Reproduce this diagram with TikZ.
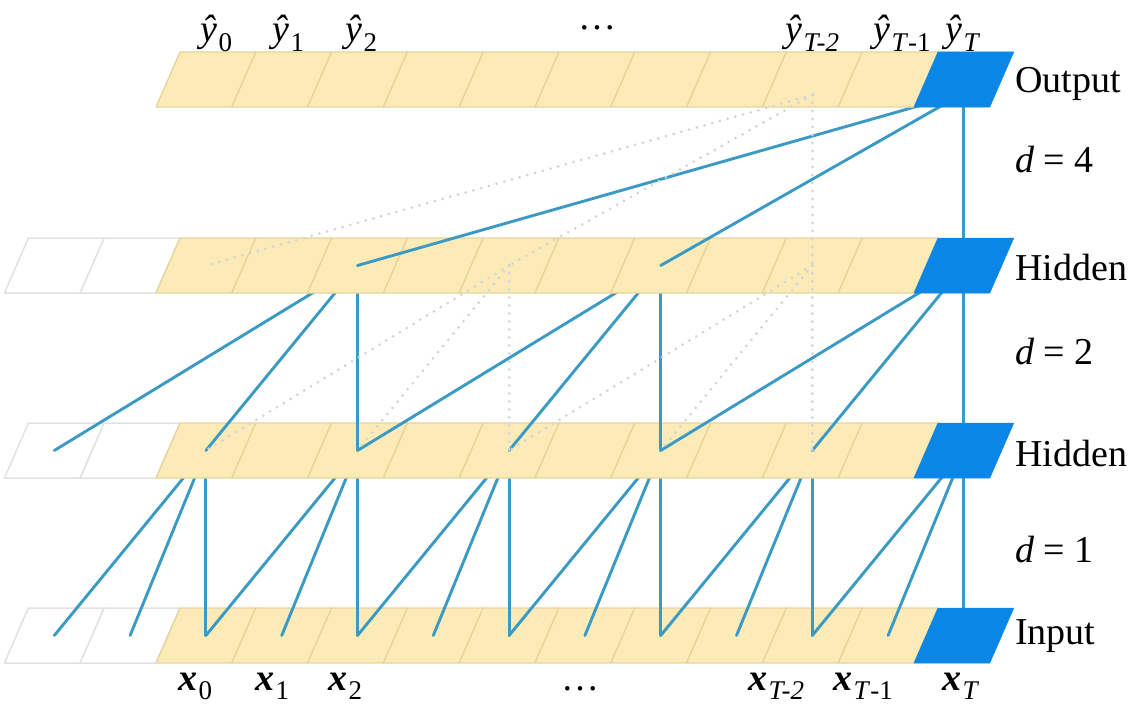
\documentclass[tikz,border=0pt]{standalone}
\usepackage{fontspec}
\setmainfont{Liberation Serif}
\definecolor{cellfill}{HTML}{FDEBB7}
\definecolor{celldraw}{HTML}{E6D49A}
\definecolor{bluecell}{HTML}{0A86E6}
\definecolor{conn}{HTML}{3B9AC4}
\definecolor{ghost}{HTML}{E2E2E2}
\definecolor{dotc}{HTML}{CDD5E0}
\newcommand\lsub[1]{\kern0.04em\raisebox{-0.24em}{\fontsize{27}{29}\selectfont #1}}
\tikzset{
  cellbox/.style={fill=cellfill, draw=celldraw, line width=1.3pt, line join=round},
  ghostbox/.style={fill=white, draw=ghost, line width=1.5pt, line join=round},
  lastbox/.style={fill=bluecell, draw=bluecell, line width=0.5pt},
  link/.style={draw=conn, line width=2.9pt, line cap=round},
  faint/.style={draw=dotc, line width=3pt, line cap=round, dash pattern=on 0pt off 8pt},
  lbl/.style={font=\fontsize{38}{40}\selectfont, inner sep=0pt},
}
\begin{document}
\begin{tikzpicture}[x=1pt, y=-1pt]
\useasboundingbox (0,0) rectangle (1133,709);
% ---------- cell centres ----------
\foreach \m in {0,...,12} {
  \coordinate (i\m) at ({54.3+75.8*\m},635.5);
  \coordinate (b\m) at ({54.3+75.8*\m},450.5);
  \coordinate (a\m) at ({54.3+75.8*\m},265.5);
}
\foreach \m in {2,...,12} \coordinate (o\m) at ({54.3+75.8*\m},79.5);
% ---------- vertical chain through the last cells (hidden by them) ----------
\draw[link] (o12) -- (a12) -- (b12) -- (i12);
% ---------- Input row (top 608) ----------
\foreach \m in {0,1} \draw[ghostbox] ({4.4+75.8*\m},663) -- ++(75.8,0) -- ++(24,-55) -- ++(-75.8,0) -- cycle;
\foreach \m in {2,...,11} \draw[cellbox] ({4.4+75.8*\m},663) -- ++(75.8,0) -- ++(24,-55) -- ++(-75.8,0) -- cycle;
\draw[lastbox] ({4.4+75.8*12},663) -- ++(75.8,0) -- ++(24,-55) -- ++(-75.8,0) -- cycle;
% ---------- links hidden 2 -> input ----------
\foreach \m in {2,4,...,12} {
  \pgfmathtruncatemacro\ma{\m-1}
  \pgfmathtruncatemacro\mb{\m-2}
  \ifnum\m<12 \draw[link] (b\m) -- (i\m);\fi
  \draw[link] (b\m) -- (i\ma);
  \draw[link] (b\m) -- (i\mb);
}
% ---------- Hidden row 2 (top 423) ----------
\foreach \m in {0,1} \draw[ghostbox] ({4.4+75.8*\m},478) -- ++(75.8,0) -- ++(24,-55) -- ++(-75.8,0) -- cycle;
\foreach \m in {2,...,11} \draw[cellbox] ({4.4+75.8*\m},478) -- ++(75.8,0) -- ++(24,-55) -- ++(-75.8,0) -- cycle;
\draw[lastbox] ({4.4+75.8*12},478) -- ++(75.8,0) -- ++(24,-55) -- ++(-75.8,0) -- cycle;
% ---------- links hidden 1 -> hidden 2 ----------
\foreach \m in {4,8,12} {
  \pgfmathtruncatemacro\ma{\m-2}
  \pgfmathtruncatemacro\mb{\m-4}
  \ifnum\m<12 \draw[link] (a\m) -- (b\m);\fi
  \draw[link] (a\m) -- (b\ma);
  \draw[link] (a\m) -- (b\mb);
}
% ---------- Hidden row 1 (top 238) ----------
\foreach \m in {0,1} \draw[ghostbox] ({4.4+75.8*\m},293) -- ++(75.8,0) -- ++(24,-55) -- ++(-75.8,0) -- cycle;
\foreach \m in {2,...,11} \draw[cellbox] ({4.4+75.8*\m},293) -- ++(75.8,0) -- ++(24,-55) -- ++(-75.8,0) -- cycle;
\draw[lastbox] ({4.4+75.8*12},293) -- ++(75.8,0) -- ++(24,-55) -- ++(-75.8,0) -- cycle;
% ---------- links output -> hidden 1 ----------
\coordinate (osrc) at ({54.3+75.8*12},93);
\draw[link] (osrc) -- (a8);
\draw[link] (osrc) -- (a4);
% ---------- Output row (top 52) ----------
\foreach \m in {2,...,11} \draw[cellbox] ({4.4+75.8*\m},107) -- ++(75.8,0) -- ++(24,-55) -- ++(-75.8,0) -- cycle;
\draw[lastbox] ({4.4+75.8*12},107) -- ++(75.8,0) -- ++(24,-55) -- ++(-75.8,0) -- cycle;
% ---------- faint dotted receptive field ----------
\coordinate (odot) at ({54.3+75.8*10},95);
\draw[faint] (odot) -- (a10);
\draw[faint] (odot) -- (a6);
\draw[faint] (odot) -- (a2);
\draw[faint] (a6) -- (b6);
\draw[faint] (a6) -- (b4);
\draw[faint] (a6) -- (b2);
\draw[faint] (a10) -- (b10);
\draw[faint] (a10) -- (b8);
\draw[faint] (a10) -- (b6);
% ---------- labels ----------
\node[lbl, anchor=base west] (y0) at (200,42) {\textit{\^y}\lsub{0}};
\node[lbl, anchor=base west] (y1) at (272,42) {\textit{\^y}\lsub{1}};
\node[lbl, anchor=base west] (y2) at (345,42) {\textit{\^y}\lsub{2}};
\node[lbl, anchor=base] (ydots) at (597,30) {\dots};
\node[lbl, anchor=base west] (yT2) at (785,42) {\textit{\^y}\lsub{\textit{T-2}}};
\node[lbl, anchor=base west] (yT1) at (873,42) {\textit{\^y}\lsub{\textit{T}-1}};
\node[lbl, anchor=base west] (yT) at (945,42) {\textit{\^y}\lsub{\textit{T}}};
\node[lbl, anchor=base west] (x0) at (178,690) {\textbf{\textit{x}}\lsub{0}};
\node[lbl, anchor=base west] (x1) at (255,690) {\textbf{\textit{x}}\lsub{1}};
\node[lbl, anchor=base west] (x2) at (328,690) {\textbf{\textit{x}}\lsub{2}};
\node[lbl, anchor=base] (xdots) at (580,690) {\dots};
\node[lbl, anchor=base west] (xT2) at (748,690) {\textbf{\textit{x}}\lsub{\textit{T-2}}};
\node[lbl, anchor=base west] (xT1) at (833,690) {\textbf{\textit{x}}\lsub{\textit{T}-1}};
\node[lbl, anchor=base west] (xT) at (942,690) {\textbf{\textit{x}}\lsub{\textit{T}}};
\node[lbl, anchor=west] (lout) at (1015,84) {Output};
\node[lbl, anchor=west] (lh1) at (1015,268) {Hidden};
\node[lbl, anchor=west] (lh2) at (1015,453) {Hidden};
\node[lbl, anchor=west] (lin) at (1015,636) {Input};
\node[lbl, anchor=west] (d4) at (1015,160) {\textit{d} = 4};
\node[lbl, anchor=west] (d2) at (1015,352) {\textit{d} = 2};
\node[lbl, anchor=west] (d1) at (1015,550) {\textit{d} = 1};
\end{tikzpicture}
\end{document}
